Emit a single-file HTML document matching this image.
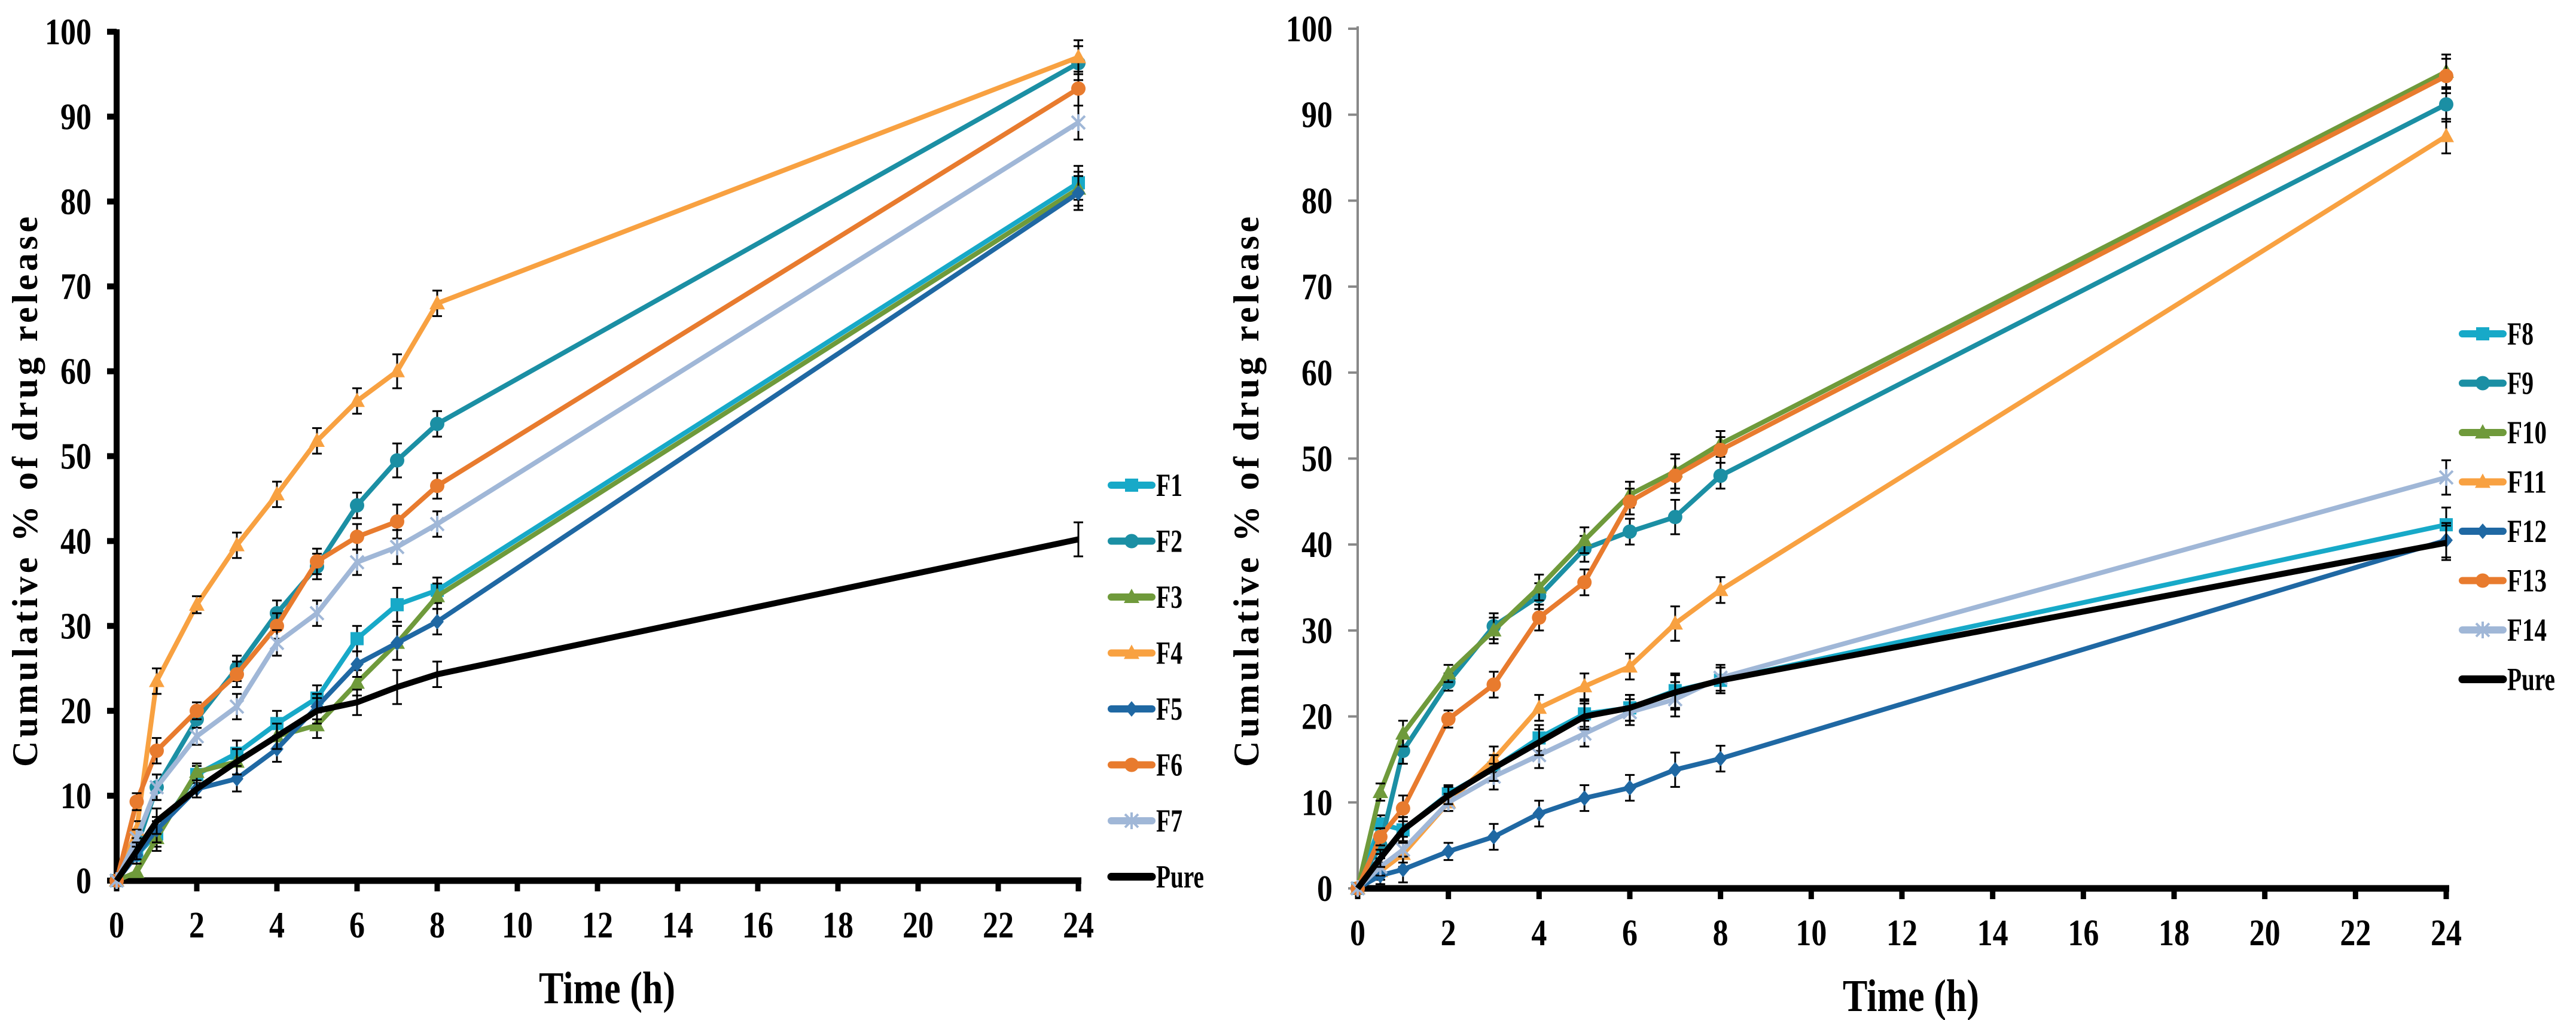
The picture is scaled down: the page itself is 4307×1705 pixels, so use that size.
<!DOCTYPE html>
<html><head><meta charset="utf-8">
<style>html,body{margin:0;padding:0;background:#fff;}svg{display:block;}</style>
</head><body>
<svg id="chart" xmlns="http://www.w3.org/2000/svg" width="4307" height="1705" viewBox="0 0 4307 1705">
<rect width="4307" height="1705" fill="#fff"/>
</svg>
<script>
const times = [0,0.5,1,2,3,4,5,6,7,8,24];
const xTicks = [0,2,4,6,8,10,12,14,16,18,20,22,24];
const yTicks = [0,10,20,30,40,50,60,70,80,90,100];
const leftNames = ['F1','F2','F3','F4','F5','F6','F7','Pure'];
const rightNames = ['F8','F9','F10','F11','F12','F13','F14','Pure'];
const F1 = [0,3,5.5,12.5,15,18.5,21.5,28.5,32.5,34.2,82.2];
const F2 = [0,4,11,19,25,31.5,37,44.2,49.5,53.8,96.3];
const F3 = [0,1,5,12.8,14,17,18.3,23.3,28,33.5,81.5];
const F4 = [0,6,23.5,32.5,39.5,45.5,51.8,56.5,60,68,97];
const F5 = [0,3,6,10.8,12,15.5,20.5,25.5,28,30.5,81];
const F6 = [0,9.3,15.3,20,24.3,30,37.6,40.5,42.3,46.5,93.3];
const F7 = [0,5,11,17,20.5,28,31.5,37.5,39.3,42,89.3];
const PureL = [0,3.5,7,10.8,14,17,20,21,22.8,24.3,40.2];
const F8 = [0,7.5,6.8,11,14,17.5,20.3,21,23,24.2,42.3];
const F9 = [0,5,16,24,30.5,34,39.5,41.5,43.2,48,91.2];
const F10 = [0,11.2,18,25,30,35,40.5,45.8,48.5,51.7,95];
const F11 = [0,2,4,10,15,21,23.5,25.8,30.8,34.7,87.5];
const F12 = [0,1.5,2.2,4.3,6,8.7,10.5,11.7,13.8,15.1,40.5];
const F13 = [0,6,9.3,19.7,23.7,31.5,35.6,45,48,51,94.5];
const F14 = [0,2.5,4.5,10,13,15.5,18,20.5,22,24.5,47.8];
const PureR = [0,3.5,6.8,10.8,14,17,20,21,22.8,24.2,40.2];
const errBar = [0,1,1.5,1,1.5,1.5,1.5,1.5,2,1.5,2];

const NS='http://www.w3.org/2000/svg';
const svg=document.getElementById('chart');
function mk(tag,attrs,parent){const e=document.createElementNS(NS,tag);for(const k in attrs)e.setAttribute(k,attrs[k]);(parent||svg).appendChild(e);return e;}
const colors=['#17a9c8','#1b8fa4','#6f9a3b','#f8a141','#1f68a3','#e87b2e','#a0b7d7','#000'];
const markers=['square','circle','triangle','triangle','diamond','circle','x','none'];

function drawMarker(g,type,x,y,c){
  let m=null;
  if(type==='square'){m=mk('rect',{x:x-11,y:y-11,width:22,height:22,fill:c},g);}
  else if(type==='circle'){m=mk('circle',{cx:x,cy:y,r:12,fill:c},g);}
  else if(type==='triangle'){m=mk('polygon',{points:`${x},${y-14} ${x+13},${y+10} ${x-13},${y+10}`,fill:c},g);}
  else if(type==='diamond'){m=mk('polygon',{points:`${x},${y-13} ${x+11},${y} ${x},${y+13} ${x-11},${y}`,fill:c},g);}
  else if(type==='x'){m=mk('path',{d:`M${x-11},${y-11}L${x+11},${y+11}M${x+11},${y-11}L${x-11},${y+11}M${x},${y-14}L${x},${y+14}`,stroke:c,'stroke-width':4,fill:'none'},g);}
  if(m){}
}

function panel(cfg){
  const xs=v=>cfg.x0+(cfg.x24-cfg.x0)*v/24;
  const ys=v=>cfg.y0-(cfg.y0-cfg.y100)*v/100;
  const g=mk('g',{});
  
  
  const ya=mk('line',{x1:cfg.x0,y1:ys(100)-4,x2:cfg.x0,y2:cfg.y0,stroke:cfg.yAxisColor,'stroke-width':cfg.yAxisW},g);
  
  yTicks.forEach(t=>{
    const tk=mk('line',{x1:cfg.x0-16,y1:ys(t),x2:cfg.x0,y2:ys(t),stroke:cfg.yAxisColor,'stroke-width':cfg.yAxisW},g);
    
    const s=String(t);
    const tl=mk('text',{x:cfg.x0-42,y:ys(t)+21,'text-anchor':'end','font-family':'Liberation Serif, serif','font-weight':'bold','font-size':62,textLength:s.length*26,lengthAdjust:'spacingAndGlyphs'},g);
    tl.textContent=s;
    
  });
  const xa=mk('line',{x1:cfg.x0-10,y1:cfg.y0,x2:xs(24)+5,y2:cfg.y0,stroke:'#000','stroke-width':11},g);
  
  xTicks.forEach(t=>{
    const tk=mk('line',{x1:xs(t),y1:cfg.y0,x2:xs(t),y2:cfg.y0+18,stroke:'#000','stroke-width':9},g);
    
    const s=String(t);
    const tl=mk('text',{x:xs(t),y:cfg.y0+95,'text-anchor':'middle','font-family':'Liberation Serif, serif','font-weight':'bold','font-size':62,textLength:s.length*26,lengthAdjust:'spacingAndGlyphs'},g);
    tl.textContent=s;
    
  });
  const xt=mk('text',{x:cfg.xTitleX,y:cfg.y0+205,'text-anchor':'middle','font-family':'Liberation Serif, serif','font-weight':'bold','font-size':76,textLength:228,lengthAdjust:'spacingAndGlyphs'},g);
  xt.textContent='Time (h)';
  
  const yt=mk('text',{x:0,y:0,'text-anchor':'middle','font-family':'Liberation Serif, serif','font-weight':'bold','font-size':60,textLength:920,lengthAdjust:'spacing',transform:`translate(${cfg.yTitleX},822) rotate(-90)`},g);
  yt.textContent='Cumulative % of drug release';
  
  cfg.series.forEach((vals,i)=>{
    const sg=mk('g',{},g);
    
    
    const pts=vals.map((v,k)=>xs(times[k])+','+ys(v)).join(' ');
    const pl=mk('polyline',{points:pts,fill:'none',stroke:colors[i],'stroke-width':i===7?10:8,'stroke-linejoin':'round'},sg);
    
    vals.forEach((v,k)=>{
      const x=xs(times[k]),y=ys(v),e=errBar[k]*(cfg.y0-cfg.y100)/100;
      if(e>0){
        const eb=mk('path',{d:`M${x},${y-e}L${x},${y+e}M${x-8},${y-e}L${x+8},${y-e}M${x-8},${y+e}L${x+8},${y+e}`,stroke:'#000','stroke-width':3,fill:'none'},sg);
        
      }
      drawMarker(sg,markers[i],x,y,colors[i]);
    });
  });
  cfg.names.forEach((n,i)=>{
    const lg=mk('g',{},g);
    
    
    const ly=cfg.legY0+i*cfg.legDy;
    mk('line',{x1:cfg.legX,y1:ly,x2:cfg.legX+68,y2:ly,stroke:colors[i],'stroke-width':i===7?13:12,'stroke-linecap':'round'},lg);
    drawMarker(lg,markers[i],cfg.legX+34,ly,colors[i]);
    const t=mk('text',{x:cfg.legX+75,y:ly+18,'font-family':'Liberation Serif, serif','font-weight':'bold','font-size':54,textLength:n.length*(n==='Pure'?20:22),lengthAdjust:'spacingAndGlyphs'},lg);
    t.textContent=n;
  });
}

panel({name:'left-chart',x0:195,x24:1803,y0:1472,y100:53,yAxisColor:'#000',yAxisW:10,
  series:[F1,F2,F3,F4,F5,F6,F7,PureL],names:leftNames,legX:1858,legY0:811,legDy:93.5,xTitleX:1015,yTitleX:62});
panel({name:'right-chart',x0:2270,x24:4090,y0:1485,y100:48,yAxisColor:'#888',yAxisW:4,
  series:[F8,F9,F10,F11,F12,F13,F14,PureR],names:rightNames,legX:4117,legY0:558,legDy:82.5,xTitleX:3195,yTitleX:2104});
</script>
</body></html>
